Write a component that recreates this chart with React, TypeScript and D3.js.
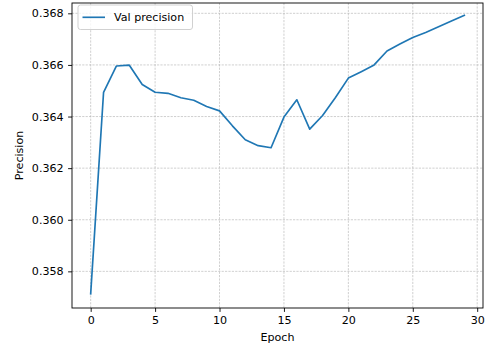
import { useEffect, useRef } from 'react';
import * as d3 from 'd3';

const epochs = d3.range(0, 30);
const valPrecision = [
  0.35713, 0.36494, 0.36596, 0.36599, 0.36524, 0.36494, 0.3649, 0.36473,
  0.36463, 0.36439, 0.36422, 0.36364, 0.3631, 0.36287, 0.36279, 0.36398,
  0.36465, 0.36351, 0.36404, 0.36474, 0.36549, 0.36574, 0.366, 0.36654,
  0.36681, 0.36706, 0.36726, 0.36748, 0.3677, 0.36792,
];
const xTicks = [0, 5, 10, 15, 20, 25, 30];
const yTicks = [0.358, 0.36, 0.362, 0.364, 0.366, 0.368];
const seriesLabel = 'Val precision';

const W = 492;
const H = 349;
const FONT = '"DejaVu Sans", sans-serif';

export default function App() {
  const svgRef = useRef<SVGSVGElement>(null);

  useEffect(() => {
    if (!svgRef.current) return;
    const svg = d3.select(svgRef.current);
    svg.selectAll('*').remove();

    const margin = { top: 3, right: 9, bottom: 41, left: 72 };
    const innerW = W - margin.left - margin.right;
    const innerH = H - margin.top - margin.bottom;

    const x = d3.scaleLinear().domain([-1.45, 30.45]).range([0, innerW]);
    const y = d3.scaleLinear().domain([0.35658, 0.3684]).range([innerH, 0]);

    const g = svg
      .append('g')
      .attr('transform', `translate(${margin.left},${margin.top})`);

    // grid
    g.selectAll('.gx')
      .data(xTicks)
      .join('line')
      .attr('x1', (d) => x(d))
      .attr('x2', (d) => x(d))
      .attr('y1', 0)
      .attr('y2', innerH)
      .attr('stroke', '#b0b0b0')
      .attr('stroke-width', 0.6)
      .attr('stroke-dasharray', '2.2,1.2');
    g.selectAll('.gy')
      .data(yTicks)
      .join('line')
      .attr('x1', 0)
      .attr('x2', innerW)
      .attr('y1', (d) => y(d))
      .attr('y2', (d) => y(d))
      .attr('stroke', '#b0b0b0')
      .attr('stroke-width', 0.6)
      .attr('stroke-dasharray', '2.2,1.2');

    // line
    const line = d3
      .line<number>()
      .x((_, i) => x(epochs[i]))
      .y((d) => y(d));
    g.append('path')
      .datum(valPrecision)
      .attr('d', line)
      .attr('fill', 'none')
      .attr('stroke', '#1f77b4')
      .attr('stroke-width', 1.67)
      .attr('stroke-linejoin', 'round')
      .attr('stroke-linecap', 'square');

    // axes
    const xAxis = g
      .append('g')
      .attr('transform', `translate(0,${innerH})`)
      .call(
        d3.axisBottom(x).tickValues(xTicks).tickSize(3.9).tickPadding(4.5).tickFormat(d3.format('d'))
      );
    const yAxis = g
      .append('g')
      .call(
        d3.axisLeft(y).tickValues(yTicks).tickSize(3.9).tickPadding(4.5).tickFormat(d3.format('.3f'))
      );
    [xAxis, yAxis].forEach((a) => {
      a.select('.domain').remove();
      a.selectAll('line').attr('stroke', '#000').attr('stroke-width', 0.9);
      a.selectAll('text')
        .attr('fill', '#000')
        .style('font-family', FONT)
        .style('font-size', '11.1px');
    });

    // frame
    g.append('rect')
      .attr('x', 0)
      .attr('y', 0)
      .attr('width', innerW)
      .attr('height', innerH)
      .attr('fill', 'none')
      .attr('stroke', '#000')
      .attr('stroke-width', 0.9);

    // axis labels
    svg
      .append('text')
      .attr('x', margin.left + innerW / 2)
      .attr('y', 341)
      .attr('text-anchor', 'middle')
      .style('font-family', FONT)
      .style('font-size', '11.1px')
      .text('Epoch');
    svg
      .append('text')
      .attr('transform', `translate(23,${margin.top + innerH / 2}) rotate(-90)`)
      .attr('text-anchor', 'middle')
      .style('font-family', FONT)
      .style('font-size', '11.1px')
      .text('Precision');

    // legend
    const lg = svg.append('g').attr('transform', 'translate(78,5)');
    lg.append('rect')
      .attr('width', 114.5)
      .attr('height', 24.5)
      .attr('rx', 2.5)
      .attr('fill', '#fff')
      .attr('fill-opacity', 0.8)
      .attr('stroke', '#cccccc')
      .attr('stroke-width', 0.9);
    lg.append('line')
      .attr('x1', 4.5)
      .attr('x2', 27)
      .attr('y1', 12.3)
      .attr('y2', 12.3)
      .attr('stroke', '#1f77b4')
      .attr('stroke-width', 1.67);
    lg.append('text')
      .attr('x', 36)
      .attr('y', 16.3)
      .style('font-family', FONT)
      .style('font-size', '11.1px')
      .text(seriesLabel);
  }, []);

  return (
    <svg
      ref={svgRef}
      width={W}
      height={H}
      style={{ position: 'fixed', left: 0, top: 0, background: '#fff' }}
    />
  );
}
